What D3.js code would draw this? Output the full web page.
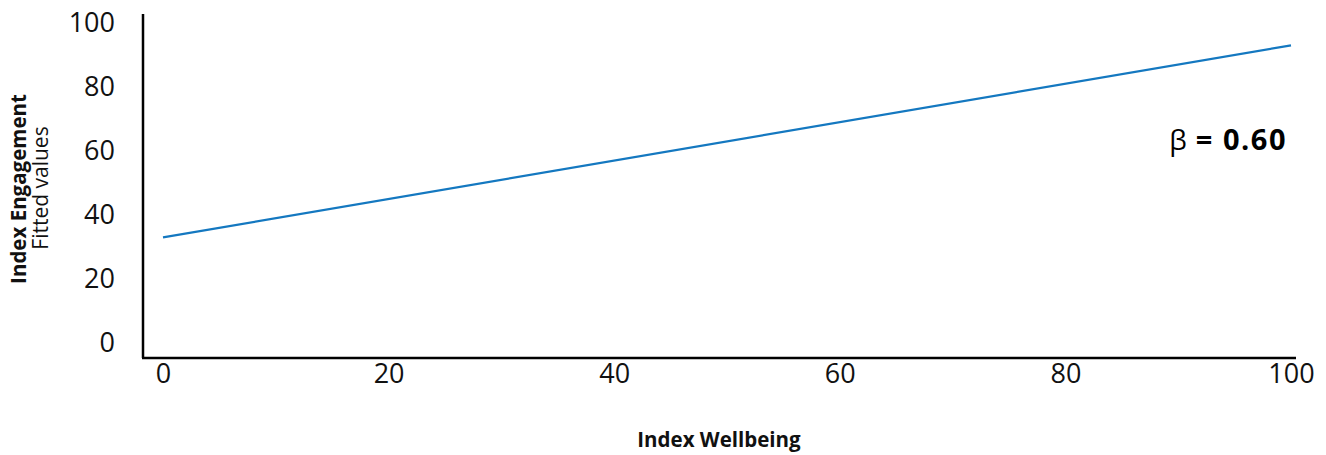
<!DOCTYPE html>
<html><head><meta charset="utf-8">
<script src="https://cdn.jsdelivr.net/npm/d3@7"></script>
<style>
html,body{margin:0;padding:0;background:#fff;}
text{font-family:"Open Sans","Noto Sans",sans-serif;}
</style></head>
<body><svg id="c" width="1326" height="455"></svg>
<script>
const wellbeing = [0, 100];
const engagementFitted = [33, 93];
const xTicks = [0, 20, 40, 60, 80, 100];
const yTicks = [0, 20, 40, 60, 80, 100];
const betaLabel = "0.60";

const svg = d3.select("#c");
const x = d3.scaleLinear().domain([0, 100]).range([163, 1291]);
const y = d3.scaleLinear().domain([0, 100]).range([343, 23]);

// axis lines
svg.append("line").attr("x1",143).attr("x2",143).attr("y1",14).attr("y2",358)
  .attr("stroke","#000").attr("stroke-width",2.5);
svg.append("line").attr("x1",142).attr("x2",1296).attr("y1",358).attr("y2",358)
  .attr("stroke","#000").attr("stroke-width",2.5);

// y tick labels
const ya = d3.axisLeft(y).tickValues(yTicks).tickSize(0).tickPadding(0);
const gy = svg.append("g").attr("transform","translate(115,0)").call(ya);
gy.select(".domain").remove();
gy.selectAll("text").attr("font-size",27).attr("fill","#111")
  .style("font-family","'Open Sans','Noto Sans',sans-serif");

// x tick labels
const xa = d3.axisBottom(x).tickValues(xTicks).tickSize(0).tickPadding(0);
const gx = svg.append("g").attr("transform","translate(0,364)").call(xa);
gx.select(".domain").remove();
gx.selectAll("text").attr("font-size",27).attr("fill","#111")
  .style("font-family","'Open Sans','Noto Sans',sans-serif");

// fitted line
const pts = wellbeing.map((w,i)=>[w, engagementFitted[i]]);
svg.append("path").datum(pts)
  .attr("d", d3.line().x(d=>x(d[0])).y(d=>y(d[1])))
  .attr("fill","none").attr("stroke","#1478c0").attr("stroke-width",2.2);

// beta label
const bt = svg.append("text").attr("x",1287).attr("y",150).attr("text-anchor","end")
  .attr("font-size",28).attr("fill","#000");
bt.append("tspan").text("β");
bt.append("tspan").attr("dx",9).attr("font-weight","bold").attr("font-size",29)
  .attr("letter-spacing",1.5).text("= " + betaLabel);

// x title
svg.append("text").attr("x",719).attr("y",447).attr("text-anchor","middle")
  .attr("font-size",20.5).attr("font-weight","bold").attr("fill","#111").text("Index Wellbeing");

// y title
svg.append("text").attr("transform","translate(26,189) rotate(-90)").attr("text-anchor","middle")
  .attr("font-size",20.5).attr("font-weight","bold").attr("fill","#111").text("Index Engagement");
svg.append("text").attr("transform","translate(48,188) rotate(-90)").attr("text-anchor","middle")
  .attr("font-size",21).attr("fill","#111").text("Fitted values");
</script></body></html>
